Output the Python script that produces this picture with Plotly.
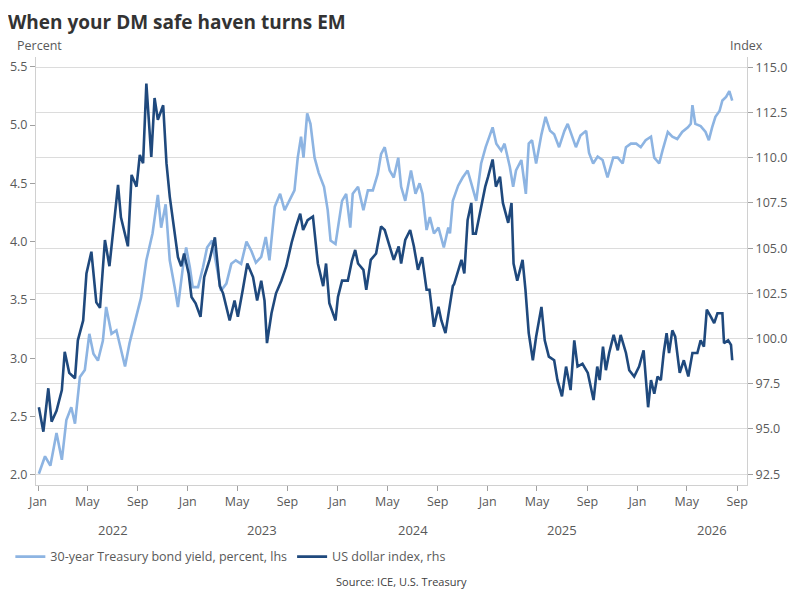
import plotly.graph_objects as go

# 30-year Treasury yield (percent, left axis)
yield_dates = [
    "2022-01-03", "2022-01-18", "2022-01-31", "2022-02-15", "2022-02-28", "2022-03-11", "2022-03-23", "2022-04-01",
    "2022-04-13", "2022-04-25", "2022-05-06", "2022-05-16", "2022-05-27", "2022-06-08", "2022-06-16", "2022-06-29",
    "2022-07-11", "2022-07-22", "2022-08-01", "2022-08-12", "2022-08-29", "2022-09-09", "2022-09-22", "2022-10-07",
    "2022-10-20", "2022-10-28", "2022-11-08", "2022-11-18", "2022-11-30", "2022-12-08", "2022-12-20", "2022-12-28",
    "2023-01-06", "2023-01-13", "2023-01-26", "2023-02-07", "2023-02-17", "2023-03-01", "2023-03-08", "2023-03-23",
    "2023-04-05", "2023-04-17", "2023-04-28", "2023-05-11", "2023-05-24", "2023-06-05", "2023-06-16", "2023-06-29",
    "2023-07-10", "2023-07-19", "2023-08-01", "2023-08-14", "2023-08-25", "2023-09-06", "2023-09-18", "2023-09-26",
    "2023-10-04", "2023-10-10", "2023-10-19", "2023-10-27", "2023-11-06", "2023-11-16", "2023-11-29", "2023-12-08",
    "2023-12-15", "2023-12-27", "2024-01-05", "2024-01-12", "2024-01-22", "2024-02-01", "2024-02-07", "2024-02-20",
    "2024-03-04", "2024-03-15", "2024-03-27", "2024-04-08", "2024-04-16", "2024-04-25", "2024-05-07", "2024-05-17",
    "2024-05-28", "2024-06-04", "2024-06-14", "2024-06-28", "2024-07-09", "2024-07-19", "2024-07-26", "2024-08-05",
    "2024-08-13", "2024-08-23", "2024-09-03", "2024-09-16", "2024-09-27", "2024-10-01", "2024-10-08", "2024-10-21",
    "2024-11-01", "2024-11-13", "2024-11-22", "2024-12-04", "2024-12-16", "2024-12-27", "2025-01-13", "2025-01-22",
    "2025-02-03", "2025-02-11", "2025-02-24", "2025-03-04", "2025-03-11", "2025-03-24", "2025-04-04", "2025-04-11",
    "2025-04-19", "2025-04-29", "2025-05-12", "2025-05-22", "2025-06-02", "2025-06-12", "2025-06-24", "2025-07-07",
    "2025-07-15", "2025-07-28", "2025-08-04", "2025-08-15", "2025-08-29", "2025-09-05", "2025-09-15", "2025-09-26",
    "2025-10-08", "2025-10-20", "2025-11-03", "2025-11-14", "2025-11-26", "2025-12-04", "2025-12-16", "2025-12-29",
    "2026-01-09", "2026-01-21", "2026-02-03", "2026-02-11", "2026-02-23", "2026-03-03", "2026-03-16", "2026-03-27",
    "2026-04-08", "2026-04-20", "2026-05-04", "2026-05-11", "2026-05-15", "2026-05-22", "2026-06-04", "2026-06-16",
    "2026-06-24", "2026-07-02", "2026-07-10", "2026-07-20", "2026-07-27", "2026-08-05", "2026-08-13", "2026-08-20",
]
yield_values = [
    2.01, 2.16, 2.08, 2.36, 2.13, 2.47, 2.58, 2.44,
    2.84, 2.90, 3.21, 3.04, 2.98, 3.15, 3.44, 3.21,
    3.24, 3.07, 2.93, 3.13, 3.38, 3.52, 3.84, 4.07,
    4.40, 4.12, 4.32, 3.84, 3.61, 3.44, 3.78, 3.95,
    3.78, 3.61, 3.61, 3.78, 3.95, 4.01, 3.87, 3.58,
    3.64, 3.81, 3.84, 3.81, 4.00, 3.92, 3.82, 3.87,
    4.04, 3.84, 4.30, 4.41, 4.27, 4.35, 4.44, 4.72,
    4.90, 4.72, 5.10, 5.01, 4.72, 4.59, 4.47, 4.27,
    4.01, 3.98, 4.18, 4.35, 4.41, 4.12, 4.41, 4.47,
    4.27, 4.44, 4.44, 4.58, 4.75, 4.81, 4.61, 4.55,
    4.72, 4.47, 4.35, 4.61, 4.41, 4.50, 4.41, 4.10,
    4.21, 4.07, 4.12, 3.95, 4.12, 4.07, 4.35, 4.48,
    4.55, 4.61, 4.50, 4.35, 4.67, 4.81, 4.98, 4.84,
    4.78, 4.84, 4.64, 4.47, 4.61, 4.70, 4.41, 4.84,
    4.87, 4.67, 4.92, 5.07, 4.95, 4.92, 4.81, 4.95,
    5.01, 4.87, 4.81, 4.91, 4.95, 4.76, 4.67, 4.73,
    4.70, 4.55, 4.72, 4.72, 4.67, 4.81, 4.84, 4.84,
    4.81, 4.87, 4.90, 4.72, 4.67, 4.78, 4.94, 4.90,
    4.88, 4.94, 4.98, 5.01, 5.17, 5.01, 4.99, 4.94,
    4.87, 4.98, 5.07, 5.12, 5.21, 5.24, 5.29, 5.21,
]

# US dollar index (right axis)
usd_dates = [
    "2022-01-03", "2022-01-14", "2022-01-26", "2022-02-03", "2022-02-15", "2022-02-28", "2022-03-07", "2022-03-18",
    "2022-04-01", "2022-04-08", "2022-04-21", "2022-04-29", "2022-05-11", "2022-05-23", "2022-06-01", "2022-06-13",
    "2022-06-24", "2022-07-07", "2022-07-15", "2022-07-22", "2022-08-08", "2022-08-17", "2022-08-29", "2022-09-06",
    "2022-09-14", "2022-09-22", "2022-10-04", "2022-10-12", "2022-10-20", "2022-11-02", "2022-11-10", "2022-11-18",
    "2022-11-30", "2022-12-08", "2022-12-16", "2022-12-23", "2023-01-03", "2023-01-10", "2023-01-20", "2023-02-01",
    "2023-02-10", "2023-02-23", "2023-03-08", "2023-03-20", "2023-03-28", "2023-04-05", "2023-04-13", "2023-04-25",
    "2023-05-03", "2023-05-15", "2023-05-26", "2023-06-09", "2023-06-19", "2023-06-29", "2023-07-07", "2023-07-13",
    "2023-07-24", "2023-08-04", "2023-08-17", "2023-08-29", "2023-09-11", "2023-09-22", "2023-10-02", "2023-10-09",
    "2023-10-20", "2023-11-02", "2023-11-06", "2023-11-14", "2023-11-27", "2023-12-04", "2023-12-12", "2023-12-27",
    "2024-01-02", "2024-01-12", "2024-01-26", "2024-02-05", "2024-02-13", "2024-02-20", "2024-03-04", "2024-03-11",
    "2024-03-22", "2024-04-04", "2024-04-16", "2024-04-25", "2024-05-07", "2024-05-17", "2024-05-29", "2024-06-04",
    "2024-06-14", "2024-06-26", "2024-07-05", "2024-07-15", "2024-07-25", "2024-08-05", "2024-08-12", "2024-08-23",
    "2024-09-03", "2024-09-10", "2024-09-20", "2024-10-01", "2024-10-08", "2024-10-11", "2024-10-21", "2024-10-29",
    "2024-11-05", "2024-11-13", "2024-11-22", "2024-11-26", "2024-12-03", "2024-12-16", "2024-12-26", "2025-01-02",
    "2025-01-13", "2025-01-21", "2025-01-31", "2025-02-07", "2025-02-20", "2025-02-28", "2025-03-05", "2025-03-14",
    "2025-03-27", "2025-04-03", "2025-04-11", "2025-04-21", "2025-04-29", "2025-05-12", "2025-05-20", "2025-05-30",
    "2025-06-12", "2025-06-20", "2025-07-01", "2025-07-11", "2025-07-22", "2025-07-31", "2025-08-08", "2025-08-20",
    "2025-09-02", "2025-09-16", "2025-09-25", "2025-10-01", "2025-10-09", "2025-10-16", "2025-10-24", "2025-11-04",
    "2025-11-14", "2025-11-21", "2025-12-04", "2025-12-12", "2025-12-24", "2026-01-05", "2026-01-16", "2026-01-27",
    "2026-02-03", "2026-02-11", "2026-02-19", "2026-02-27", "2026-03-06", "2026-03-13", "2026-03-19", "2026-03-27",
    "2026-04-03", "2026-04-14", "2026-04-24", "2026-05-05", "2026-05-15", "2026-05-27", "2026-06-04", "2026-06-12",
    "2026-06-19", "2026-06-29", "2026-07-07", "2026-07-15", "2026-07-27", "2026-07-31", "2026-08-10", "2026-08-17",
    "2026-08-20",
]
usd_values = [
    96.2, 94.85, 97.25, 95.4, 96.0, 97.15, 99.27, 98.1,
    97.8, 99.9, 101.0, 103.6, 104.8, 102.0, 101.7, 105.45,
    104.0, 106.9, 108.5, 106.7, 105.1, 109.05, 108.4, 110.15,
    109.7, 114.1, 110.05, 113.3, 112.1, 112.9, 109.7, 107.85,
    105.8, 104.5, 104.0, 104.7, 103.6, 102.3, 101.95, 101.2,
    103.4, 104.35, 105.6, 102.9, 102.5, 101.75, 101.0, 102.1,
    101.2, 102.7, 104.15, 103.4, 102.1, 103.2, 102.1, 99.75,
    101.4, 102.5, 103.2, 104.0, 105.3, 106.2, 106.9, 106.0,
    106.55, 106.75, 105.8, 104.15, 102.9, 104.15, 101.95, 101.0,
    102.3, 103.2, 103.2, 104.3, 104.9, 104.15, 103.8, 102.7,
    104.35, 104.7, 106.2, 106.0, 105.1, 104.35, 105.1, 104.15,
    105.45, 106.0, 105.1, 103.8, 104.5, 102.7, 102.7, 100.65,
    101.75, 101.0, 100.3, 101.95, 102.9, 103.0, 103.8, 104.35,
    103.6, 106.55, 107.5, 105.8, 105.8, 107.3, 108.4, 108.95,
    109.9, 108.4, 108.95, 107.5, 106.4, 107.5, 104.15, 103.2,
    104.35, 102.7, 100.3, 98.8, 100.1, 101.75, 99.9, 99.0,
    98.8, 97.7, 96.8, 98.45, 97.15, 99.9, 98.45, 98.6,
    98.1, 96.6, 98.45, 97.7, 99.55, 98.25, 99.2, 100.2,
    99.35, 100.2, 99.2, 98.25, 97.9, 98.45, 99.35, 96.2,
    97.7, 96.95, 97.9, 97.7, 99.2, 100.3, 99.2, 100.45,
    100.1, 98.1, 98.8, 97.9, 99.2, 99.2, 99.9, 99.55,
    101.6, 101.2, 100.85, 101.4, 101.4, 99.75, 99.9, 99.65,
    98.8,
]

years = [2022, 2023, 2024, 2025, 2026]
tick_months = [(1, "Jan"), (5, "May"), (9, "Sep")]

tick_vals = [f"{y}-{m:02d}-01" for y in years for m, _ in tick_months]
tick_text = [name for y in years for _, name in tick_months]

light = "#8DB4E2"
dark = "#1F497D"
grey = "#595959"
font = "Open Sans"

fig = go.Figure()

fig.add_trace(go.Scatter(
    x=yield_dates, y=yield_values, mode="lines",
    name="30-year Treasury bond yield, percent, lhs",
    line=dict(color=light, width=2.6),
))
fig.add_trace(go.Scatter(
    x=usd_dates, y=usd_values, mode="lines",
    name="US dollar index, rhs", yaxis="y2",
    line=dict(color=dark, width=2.6),
))

# year labels centred under each year
annotations = [
    dict(x=f"{y}-07-02", y=-0.105, xref="x", yref="paper", text=str(y),
         yanchor="middle", showarrow=False, font=dict(size=13, color=grey, family=font))
    for y in years
]
annotations += [
    dict(x=-0.0295, y=1.026, xref="paper", yref="paper", text="Percent",
         xanchor="left", yanchor="middle", showarrow=False,
         font=dict(size=12.5, color=grey, family=font)),
    dict(x=1.0257, y=1.026, xref="paper", yref="paper", text="Index",
         xanchor="right", yanchor="middle", showarrow=False,
         font=dict(size=12.5, color=grey, family=font)),
    dict(x=0.5136, y=-0.2266, xref="paper", yref="paper", text="Source: ICE, U.S. Treasury",
         yanchor="middle", showarrow=False, font=dict(size=11, color="#404040", family=font)),
]

axis_common = dict(
    automargin=False, showline=True, linecolor="#d0d0d0", zeroline=False,
    ticks="outside", ticklen=5, tickcolor="#a0a0a0",
    tickfont=dict(size=12.5, color=grey, family=font),
)

# the page body adds an 8px offset, so the figure is sized to fit inside it
fig.update_layout(
    width=784, height=584,
    paper_bgcolor="white", plot_bgcolor="white",
    margin=dict(l=28, r=45, t=49, b=107, autoexpand=False),
    title=dict(text="<b>When your DM safe haven turns EM</b>", x=0.0, xanchor="left",
               xref="container", y=0.976, yanchor="middle", pad=dict(l=0),
               font=dict(size=19, color="#333333", family=font)),
    xaxis=dict(
        range=["2021-12-27", "2026-09-25"],
        tickvals=tick_vals, ticktext=tick_text, showgrid=False,
        **axis_common,
    ),
    yaxis=dict(
        range=[1.914, 5.583], tickvals=[2.0, 2.5, 3.0, 3.5, 4.0, 4.5, 5.0, 5.5],
        tickformat=".1f", showgrid=False,
        **axis_common,
    ),
    yaxis2=dict(
        range=[91.9, 115.57], overlaying="y", side="right",
        tickvals=[92.5, 95, 97.5, 100, 102.5, 105, 107.5, 110, 112.5, 115],
        tickformat=".1f", showgrid=True, gridcolor="#dcdcdc", gridwidth=1,
        **axis_common,
    ),
    legend=dict(orientation="h", xref="container", yref="container",
                x=0.003, y=0.060, xanchor="left", yanchor="middle",
                itemwidth=30, font=dict(size=12.5, color=grey, family=font)),
    annotations=annotations,
)

fig.write_html("out.html")
